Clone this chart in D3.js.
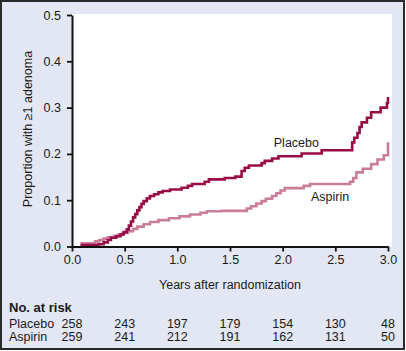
<!DOCTYPE html>
<html>
<head>
<meta charset="utf-8">
<script src="https://cdn.jsdelivr.net/npm/d3@7"></script>
<style>
  body { margin: 0; background: #fff; }
  svg { display: block; font-family: "Liberation Sans", Arial, sans-serif; }
</style>
</head>
<body>
<div id="chart"></div>
<script>
// Kaplan-Meier style step data: [years, proportion]
const placeboSteps = [
  [0.08, 0.003], [0.25, 0.005], [0.30, 0.009], [0.34, 0.014], [0.37, 0.019],
  [0.42, 0.022], [0.46, 0.026], [0.49, 0.031], [0.52, 0.037], [0.54, 0.045],
  [0.56, 0.054], [0.58, 0.063], [0.60, 0.070], [0.62, 0.078], [0.64, 0.085],
  [0.66, 0.092], [0.68, 0.098], [0.71, 0.104], [0.74, 0.109], [0.78, 0.113],
  [0.82, 0.117], [0.86, 0.120], [0.93, 0.123], [1.04, 0.127], [1.10, 0.131],
  [1.14, 0.135], [1.26, 0.140], [1.30, 0.145], [1.45, 0.148], [1.55, 0.151],
  [1.61, 0.163], [1.64, 0.170], [1.68, 0.175], [1.80, 0.180], [1.83, 0.185],
  [1.90, 0.190], [1.96, 0.195], [2.18, 0.201], [2.37, 0.208], [2.66, 0.225],
  [2.68, 0.235], [2.71, 0.245], [2.73, 0.258], [2.75, 0.268], [2.80, 0.278],
  [2.84, 0.290], [2.93, 0.300], [2.99, 0.310], [3.00, 0.323]
];
const aspirinSteps = [
  [0.08, 0.007], [0.22, 0.011], [0.26, 0.014], [0.30, 0.017], [0.34, 0.020],
  [0.40, 0.023], [0.44, 0.026], [0.48, 0.029], [0.53, 0.033], [0.58, 0.038],
  [0.62, 0.043], [0.68, 0.048], [0.74, 0.053], [0.82, 0.057], [0.92, 0.061],
  [1.02, 0.065], [1.12, 0.069], [1.22, 0.073], [1.28, 0.076], [1.42, 0.077],
  [1.66, 0.082], [1.70, 0.087], [1.75, 0.093], [1.80, 0.098], [1.84, 0.103],
  [1.90, 0.109], [1.94, 0.115], [1.98, 0.121], [2.02, 0.126], [2.20, 0.131],
  [2.26, 0.135], [2.64, 0.140], [2.67, 0.148], [2.70, 0.160], [2.76, 0.168],
  [2.84, 0.178], [2.90, 0.188], [2.96, 0.197], [3.00, 0.225]
];

const xTicks = [0, 0.5, 1.0, 1.5, 2.0, 2.5, 3.0];
const yTicks = [0, 0.1, 0.2, 0.3, 0.4, 0.5];
const riskGroups = ['Placebo', 'Aspirin'];
const placeboAtRisk = [258, 243, 197, 179, 154, 130, 48];
const aspirinAtRisk = [259, 241, 212, 191, 162, 131, 50];

const W = 406, H = 351;
const plot = { left: 72, right: 388, top: 15, bottom: 246.5 };

const svg = d3.select('#chart').append('svg')
  .attr('width', W).attr('height', H);

// background + frame
svg.append('rect').attr('x', 1).attr('y', 1).attr('width', W - 3).attr('height', H - 3)
  .attr('fill', '#e3e7f3').attr('stroke', '#2b2b2b').attr('stroke-width', 2);

svg.append('rect')
  .attr('x', plot.left).attr('y', 14)
  .attr('width', 392 - plot.left).attr('height', plot.bottom - 14)
  .attr('fill', '#fff');

const x = d3.scaleLinear().domain([0, 3]).range([plot.left, plot.right]);
const y = d3.scaleLinear().domain([0, 0.5]).range([plot.bottom, plot.top]);

const line = d3.line()
  .x(d => x(d[0]))
  .y(d => y(d[1]))
  .curve(d3.curveStepAfter);

svg.append('path').datum(aspirinSteps)
  .attr('fill', 'none').attr('stroke', '#c97d9b').attr('stroke-width', 2.6)
  .attr('d', line);

svg.append('path').datum(placeboSteps)
  .attr('fill', 'none').attr('stroke', '#990c46').attr('stroke-width', 2.6)
  .attr('d', line);

// axes
const xAxis = svg.append('g')
  .attr('transform', `translate(0,${plot.bottom})`)
  .call(d3.axisBottom(x).tickValues(xTicks).tickFormat(d3.format('.1f')).tickSize(5).tickSizeOuter(0).tickPadding(4));
const yAxis = svg.append('g')
  .attr('transform', `translate(${plot.left},0)`)
  .call(d3.axisLeft(y).tickValues(yTicks).tickFormat(d3.format('.1f')).tickSize(5).tickSizeOuter(0).tickPadding(6));

[xAxis, yAxis].forEach(g => {
  g.select('.domain').attr('stroke', '#111').attr('stroke-width', 2);
  g.selectAll('.tick line').attr('stroke', '#111').attr('stroke-width', 1.8);
  g.selectAll('.tick text').attr('fill', '#1a1a1a')
    .style('font-size', '12.5px').style('font-family', '"Liberation Sans", Arial, sans-serif');
});

// axis titles
svg.append('text')
  .attr('x', (x(0) + x(3)) / 2).attr('y', 289)
  .attr('text-anchor', 'middle').attr('font-size', 12.5).attr('fill', '#1a1a1a')
  .text('Years after randomization');

svg.append('text')
  .attr('transform', `translate(32,129) rotate(-90)`)
  .attr('text-anchor', 'middle').attr('font-size', 12.5).attr('fill', '#1a1a1a')
  .text('Proportion with \u22651 adenoma');

// curve labels
svg.append('text').attr('x', x(2.13)).attr('y', 147)
  .attr('text-anchor', 'middle').attr('font-size', 12.5).attr('fill', '#1a1a1a')
  .text('Placebo');
svg.append('text').attr('x', x(2.45)).attr('y', 201)
  .attr('text-anchor', 'middle').attr('font-size', 12.5).attr('fill', '#1a1a1a')
  .text('Aspirin');

// number at risk table
svg.append('text').attr('x', 9).attr('y', 311.5)
  .attr('font-size', 13).attr('font-weight', 'bold').attr('fill', '#1a1a1a')
  .text('No. at risk');

const rows = [placeboAtRisk, aspirinAtRisk];
const rowY = [328, 341];
rows.forEach((vals, i) => {
  svg.append('text').attr('x', 9).attr('y', rowY[i])
    .attr('font-size', 12.5).attr('fill', '#1a1a1a').text(riskGroups[i]);
  svg.selectAll(null).data(vals).join('text')
    .attr('x', (d, j) => x(xTicks[j])).attr('y', rowY[i])
    .attr('text-anchor', 'middle').attr('font-size', 12.5).attr('fill', '#1a1a1a')
    .text(d => d);
});
</script>
</body>
</html>
